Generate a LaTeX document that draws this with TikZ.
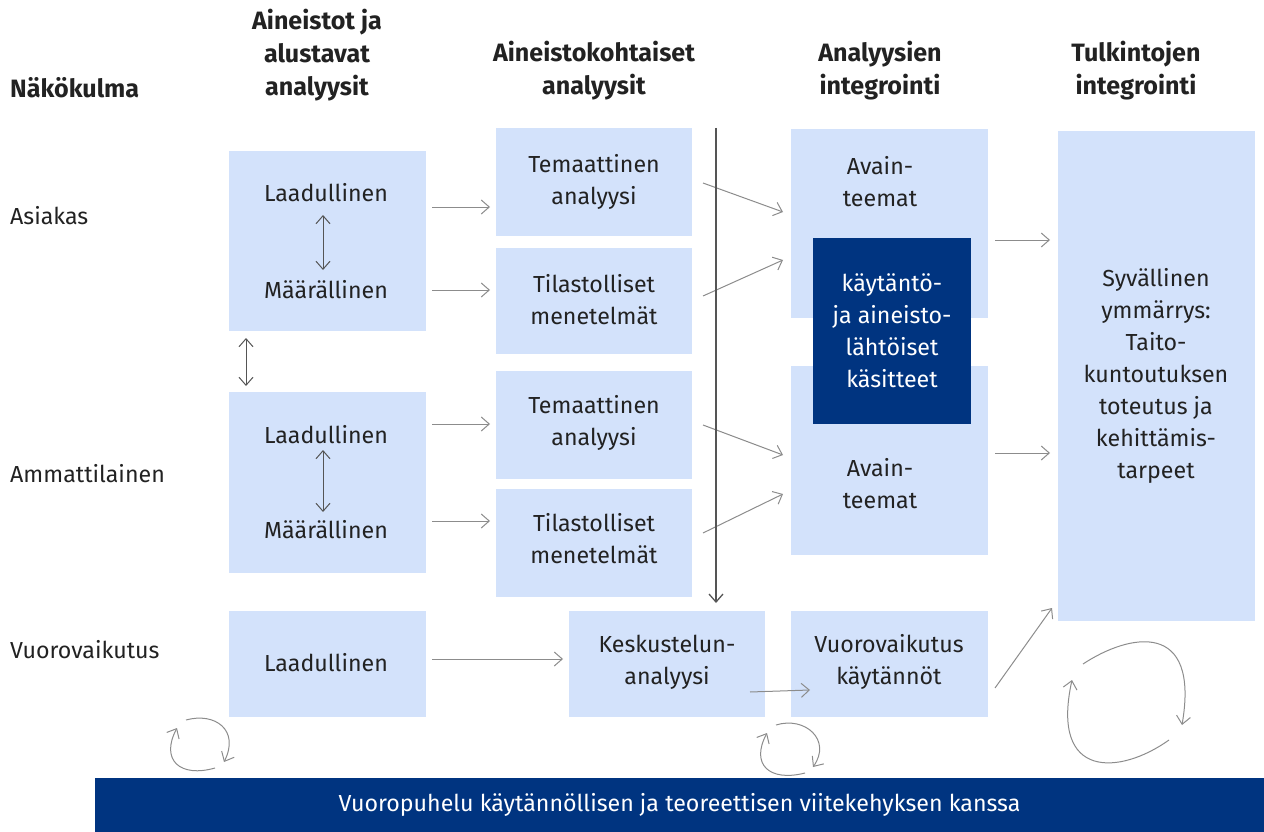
\documentclass[tikz,border=0pt]{standalone}
\usepackage{fontspec}
\setmainfont{Fira Sans}
\usetikzlibrary{arrows.meta}
\definecolor{lblue}{HTML}{D3E2FB}
\definecolor{dblue}{HTML}{003480}
\definecolor{txt}{HTML}{222222}
\definecolor{arr}{HTML}{8C8C8C}
\definecolor{darr}{HTML}{555555}
\tikzset{
  box/.style={fill=lblue, draw=none, inner sep=0pt},
  dbox/.style={fill=dblue, draw=none, inner sep=0pt, text=white, align=center, font=\fontsize{23.2}{32}\selectfont},
  lab/.style={text=txt, align=center, inner sep=0pt, font=\fontsize{23.2}{32}\selectfont},
  head/.style={text=txt, align=center, inner sep=0pt, font=\fontsize{25.1}{33}\selectfont\bfseries},
  garrow/.style={draw=arr, line width=1pt, -{Straight Barb[length=8pt,width=14pt]}},
  darrow/.style={draw=darr, line width=1pt, {Straight Barb[length=8pt,width=14pt]}-{Straight Barb[length=8pt,width=14pt]}},
  vline/.style={draw=darr, line width=1.3pt, -{Straight Barb[length=8pt,width=14pt]}},
}
\begin{document}
\begin{tikzpicture}[x=1pt,y=-1pt]
\useasboundingbox (0,0) rectangle (1264,832);
% boxes
\node[box, minimum width=197pt, minimum height=180pt] (a1) at (327.5,241) {};
\node[box, minimum width=197pt, minimum height=181pt] (a2) at (327.5,482.5) {};
\node[box, minimum width=197pt, minimum height=106pt] (a3) at (327.5,664) {};
\node[box, minimum width=196pt, minimum height=108pt] (t1) at (594,182) {};
\node[box, minimum width=196pt, minimum height=106pt] (s1) at (594,301) {};
\node[box, minimum width=196pt, minimum height=108pt] (t2) at (594,425) {};
\node[box, minimum width=196pt, minimum height=108pt] (s2) at (594,543) {};
\node[box, minimum width=196pt, minimum height=106pt] (k) at (667,664) {};
\node[box, minimum width=197pt, minimum height=189pt] (v1) at (889.5,223.5) {};
\node[box, minimum width=197pt, minimum height=189pt] (v2) at (889.5,460.5) {};
\node[box, minimum width=197pt, minimum height=106pt] (v3) at (889.5,664) {};
\node[box, minimum width=197pt, minimum height=490pt] (c4) at (1156.5,376) {};
\node[dbox, minimum width=158pt, minimum height=186pt] (dk) at (892,331) {käytäntö-\\ja aineisto-\\lähtöiset\\käsitteet};
\node[dbox, minimum width=1169pt, minimum height=54pt] (ban) at (679.5,805) {Vuoropuhelu käytännöllisen ja teoreettisen viitekehyksen kanssa};
% headers
\node[head, anchor=west] (h0) at (10,88) {Näkökulma};
\node[head] (h1) at (317,55) {Aineistot ja\\alustavat\\analyysit};
\node[head] (h2) at (594,71) {Aineistokohtaiset\\analyysit};
\node[head] (h3) at (880,71) {Analyysien\\integrointi};
\node[head] (h4) at (1136,71) {Tulkintojen\\integrointi};
% row labels
\node[lab, anchor=west] (r1) at (10,216) {Asiakas};
\node[lab, anchor=west] (r2) at (10,474) {Ammattilainen};
\node[lab, anchor=west] (r3) at (10,650) {Vuorovaikutus};
% col1 texts
\node[lab] (q1) at (326,193) {Laadullinen};
\node[lab] (m1) at (326,290) {Määrällinen};
\node[lab] (q2) at (326,435) {Laadullinen};
\node[lab] (m2) at (326,530) {Määrällinen};
\node[lab] (q3) at (326,663) {Laadullinen};
% col2 texts
\node[lab] (tt1) at (594,182) {Temaattinen\\analyysi};
\node[lab] (st1) at (594,300) {Tilastolliset\\menetelmät};
\node[lab] (tt2) at (594,423) {Temaattinen\\analyysi};
\node[lab] (st2) at (594,539) {Tilastolliset\\menetelmät};
\node[lab] (kt) at (667,662) {Keskustelun-\\analyysi};
% col3 texts
\node[lab] (vt1) at (880,182) {Avain-\\teemat};
\node[lab] (vt2) at (880,484) {Avain-\\teemat};
\node[lab] (vt3) at (889,662) {Vuorovaikutus\\käytännöt};
% col4 text
\node[lab] (ct) at (1156,376) {Syvällinen\\ymmärrys:\\Taito-\\kuntoutuksen\\toteutus ja\\kehittämis-\\tarpeet};
% arrow end coordinates
\coordinate (d1a) at (323,215); \coordinate (d1b) at (323,270);
\coordinate (d2a) at (323,450); \coordinate (d2b) at (323,512);
\coordinate (d3a) at (246,338); \coordinate (d3b) at (246,386);
\draw[darrow] (d1a) -- (d1b);
\draw[darrow] (d2a) -- (d2b);
\draw[darrow] (d3a) -- (d3b);
% col1 -> col2
\coordinate (e1a) at (432,207); \coordinate (e1b) at (490,207);
\coordinate (e2a) at (432,290); \coordinate (e2b) at (490,290);
\coordinate (e3a) at (432,424); \coordinate (e3b) at (490,424);
\coordinate (e4a) at (432,521); \coordinate (e4b) at (490,521);
\coordinate (e5a) at (432,659); \coordinate (e5b) at (563,659);
\foreach \i in {1,...,5} {\draw[garrow] (e\i a) -- (e\i b);}
% col2 -> col3
\coordinate (f1a) at (703,183); \coordinate (f1b) at (783,212);
\coordinate (f2a) at (703,296); \coordinate (f2b) at (783,260);
\coordinate (f3a) at (703,425); \coordinate (f3b) at (783,455);
\coordinate (f4a) at (703,533); \coordinate (f4b) at (783,494);
\coordinate (f5a) at (750,692); \coordinate (f5b) at (810,690);
\foreach \i in {1,...,5} {\draw[garrow] (f\i a) -- (f\i b);}
% col3 -> col4
\coordinate (g1a) at (995,240); \coordinate (g1b) at (1050,240);
\coordinate (g2a) at (995,453); \coordinate (g2b) at (1050,453);
\coordinate (g3a) at (995,688); \coordinate (g3b) at (1052,608);
\foreach \i in {1,...,3} {\draw[garrow] (g\i a) -- (g\i b);}
% vertical line
\coordinate (va) at (716,128); \coordinate (vb) at (716,603);
\draw[vline] (va) -- (vb);
% cycles
\draw[garrow] (186,720) .. controls (215,712) and (240,730) .. (224,762);
\draw[garrow] (215,768) .. controls (180,778) and (160,760) .. (177,728);
\draw[garrow] (776,725) .. controls (805,716) and (832,740) .. (813,767);
\draw[garrow] (805,773) .. controls (770,782) and (750,765) .. (767,733);
\draw[garrow] (1083,664) .. controls (1130,633) and (1200,620) .. (1182,725);
\draw[garrow] (1169,740) .. controls (1120,775) and (1050,780) .. (1072,680);
\end{tikzpicture}
\end{document}
